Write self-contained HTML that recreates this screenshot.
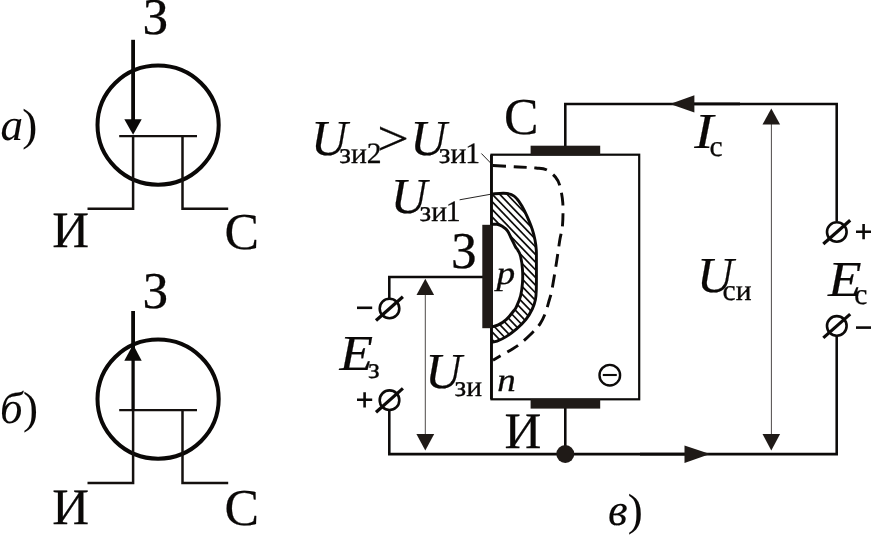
<!DOCTYPE html>
<html lang="ru">
<head>
<meta charset="utf-8">
<title>Полевой транзистор</title>
<style>
html,body{margin:0;padding:0;background:#fff;}
body{width:871px;height:535px;overflow:hidden;}
svg{display:block;will-change:transform;}
text{text-rendering:geometricPrecision;font-family:"Liberation Serif",serif;fill:#0a0807;stroke:#0a0807;stroke-width:0.35px;stroke-linejoin:round;}
.m{font-size:51px;stroke-width:0.25px;}
.i{font-size:50.4px;font-style:italic;stroke-width:0.2px;}
.k{fill:#0a0807;stroke:#0a0807;}
.o{font-size:51.7px;}
.s{font-size:29.6px;stroke-width:0.3px;}
.l{font-size:45px;font-style:italic;stroke-width:0.1px;}
.r{font-size:45px;font-style:normal;stroke-width:0.1px;}
.p{font-size:33px;font-style:italic;stroke-width:0.3px;}
</style>
</head>
<body>
<svg width="871" height="535" viewBox="0 0 871 535">
<rect width="871" height="535" fill="#fff"/>
<!-- a) -->
<ellipse cx="158.1" cy="125.1" rx="60.6" ry="59.6" fill="none" stroke="#0a0807" stroke-width="4"/>
<path d="M119.2,136.1 H197" fill="none" stroke="#14100e" stroke-width="2.3"/>
<path d="M133.1,136.1 V208.8 H87.5 M182.5,136.1 V208.8 H228.2" fill="none" stroke="#14100e" stroke-width="2.5"/>
<line x1="133.1" y1="39.8" x2="133.1" y2="122" stroke="#0a0807" stroke-width="3.8"/>
<polygon points="124.3,119.2 141.7,119.2 133.1,134.8" fill="#0a0807"/>

<text class="m o" x="142.5" y="34.3">З</text>
<text class="m k" x="52.2" y="247.2">И</text>
<text class="m o" x="224.6" y="248.7">С</text>
<text class="l" x="0.5" y="140.2">а<tspan class="r" dx="-0.8" dy="-0.2">)</tspan></text>
<!-- b) -->
<ellipse cx="158.1" cy="399.1" rx="60.6" ry="59.6" fill="none" stroke="#0a0807" stroke-width="4"/>
<path d="M119.2,410.1 H197" fill="none" stroke="#14100e" stroke-width="2.3"/>
<path d="M133.1,410.1 V483.0 H87.5 M182.5,410.1 V483.0 H228.2" fill="none" stroke="#14100e" stroke-width="2.5"/>
<line x1="133.1" y1="311" x2="133.1" y2="350" stroke="#0a0807" stroke-width="3.8"/>
<line x1="133.1" y1="350" x2="133.1" y2="410.1" stroke="#0a0807" stroke-width="3.3"/>
<polygon points="124.3,360.8 141.7,360.8 133.1,344.6" fill="#0a0807"/>

<text class="m o" x="142.5" y="308.3">З</text>
<text class="m k" x="52.2" y="523.6">И</text>
<text class="m o" x="224.6" y="524.7">С</text>
<text class="l" x="0" y="422.7">б<tspan class="r" dx="0.3" dy="0">)</tspan></text>
<!-- v) -->
<g fill="none" stroke="#0c0a09" stroke-width="2.55" stroke-linejoin="miter">
<rect x="491.5" y="154.7" width="147.7" height="244.6" stroke-width="2.2"/>
<path d="M565.3,146 V103.9 H836.7 V221"/>
<path d="M836.7,336 V454.1 H389.3 V410"/>
<path d="M389.3,298 V276.9 H483"/>
<path d="M565.3,408 V454"/>
</g>
<line x1="491.45" y1="154.7" x2="491.45" y2="399.3" stroke="#0c0a09" stroke-width="2.8"/>
<rect x="530.6" y="145.7" width="69.6" height="9.6" fill="#1f1a17"/>
<rect x="530.6" y="399" width="69.6" height="9.6" fill="#1f1a17"/>
<rect x="482.3" y="224.8" width="10.1" height="103.4" fill="#1f1a17"/>
<circle cx="565.3" cy="454" r="9.0" fill="#1f1a17"/>
<!-- depletion -->
<clipPath id="cp"><path d="M491.8,194.0 C493.8,193.9 500.3,193.1 503.6,193.2 C506.9,193.3 509.2,193.7 511.4,194.6 C513.6,195.5 514.9,196.5 516.6,198.4 C518.4,200.3 520.1,203.0 521.9,206.0 C523.6,209.0 525.4,212.5 527.1,216.4 C528.8,220.3 531.0,225.6 532.3,229.5 C533.6,233.4 534.3,236.5 535.0,240.0 C535.7,243.5 536.1,246.6 536.3,250.4 C536.5,254.2 536.4,256.5 536.4,263.0 C536.4,269.5 536.5,283.2 536.3,289.3 C536.1,295.4 536.1,296.4 535.4,299.7 C534.7,303.0 533.9,305.7 532.3,309.0 C530.7,312.3 528.4,316.3 525.8,319.6 C523.2,322.9 519.9,326.0 516.6,328.8 C513.3,331.6 509.5,334.5 506.2,336.6 C502.9,338.7 499.4,340.2 497.0,341.2 C494.6,342.1 492.7,342.1 491.8,342.3 L491.8,326.8 C492.9,326.5 495.9,326.1 498.3,324.9 C500.7,323.7 503.6,322.0 506.2,319.6 C508.8,317.2 512.3,312.7 514.0,310.5 C515.7,308.3 515.5,308.8 516.6,306.3 C517.7,303.9 519.6,299.7 520.6,295.8 C521.6,291.9 522.2,287.1 522.5,282.7 C522.8,278.3 522.8,274.0 522.5,269.6 C522.2,265.2 521.4,259.7 520.6,256.5 C519.9,253.3 518.9,252.2 518.0,250.5 C517.1,248.8 516.4,248.5 515.3,246.5 C514.2,244.5 512.7,241.2 511.4,238.6 C510.1,236.0 509.0,232.9 507.5,230.8 C506.0,228.7 503.9,227.3 502.2,226.2 C500.4,225.1 498.7,224.6 497.0,224.3 C495.3,224.0 492.7,224.3 491.8,224.3 Z"/></clipPath>
<g clip-path="url(#cp)" stroke="#0c0a09" stroke-width="1.7">
<line x1="488.0" y1="128.5" x2="540.0" y2="182.6"/>
<line x1="488.0" y1="136.1" x2="540.0" y2="190.2"/>
<line x1="488.0" y1="143.8" x2="540.0" y2="197.9"/>
<line x1="488.0" y1="151.5" x2="540.0" y2="205.5"/>
<line x1="488.0" y1="159.1" x2="540.0" y2="213.2"/>
<line x1="488.0" y1="166.8" x2="540.0" y2="220.9"/>
<line x1="488.0" y1="174.4" x2="540.0" y2="228.5"/>
<line x1="488.0" y1="182.1" x2="540.0" y2="236.2"/>
<line x1="488.0" y1="189.8" x2="540.0" y2="243.8"/>
<line x1="488.0" y1="197.4" x2="540.0" y2="251.5"/>
<line x1="488.0" y1="205.1" x2="540.0" y2="259.2"/>
<line x1="488.0" y1="212.7" x2="540.0" y2="266.8"/>
<line x1="488.0" y1="220.4" x2="540.0" y2="274.5"/>
<line x1="488.0" y1="228.1" x2="540.0" y2="282.1"/>
<line x1="488.0" y1="235.7" x2="540.0" y2="289.8"/>
<line x1="488.0" y1="243.4" x2="540.0" y2="297.5"/>
<line x1="488.0" y1="251.0" x2="540.0" y2="305.1"/>
<line x1="488.0" y1="258.7" x2="540.0" y2="312.8"/>
<line x1="488.0" y1="266.4" x2="540.0" y2="320.4"/>
<line x1="488.0" y1="274.0" x2="540.0" y2="328.1"/>
<line x1="488.0" y1="281.7" x2="540.0" y2="335.8"/>
<line x1="488.0" y1="289.3" x2="540.0" y2="343.4"/>
<line x1="488.0" y1="297.0" x2="540.0" y2="351.1"/>
<line x1="488.0" y1="304.7" x2="540.0" y2="358.7"/>
<line x1="488.0" y1="312.3" x2="540.0" y2="366.4"/>
<line x1="488.0" y1="320.0" x2="540.0" y2="374.1"/>
<line x1="488.0" y1="327.6" x2="540.0" y2="381.7"/>
<line x1="488.0" y1="335.3" x2="540.0" y2="389.4"/>
</g>
<path d="M491.8,194.0 C493.8,193.9 500.3,193.1 503.6,193.2 C506.9,193.3 509.2,193.7 511.4,194.6 C513.6,195.5 514.9,196.5 516.6,198.4 C518.4,200.3 520.1,203.0 521.9,206.0 C523.6,209.0 525.4,212.5 527.1,216.4 C528.8,220.3 531.0,225.6 532.3,229.5 C533.6,233.4 534.3,236.5 535.0,240.0 C535.7,243.5 536.1,246.6 536.3,250.4 C536.5,254.2 536.4,256.5 536.4,263.0 C536.4,269.5 536.5,283.2 536.3,289.3 C536.1,295.4 536.1,296.4 535.4,299.7 C534.7,303.0 533.9,305.7 532.3,309.0 C530.7,312.3 528.4,316.3 525.8,319.6 C523.2,322.9 519.9,326.0 516.6,328.8 C513.3,331.6 509.5,334.5 506.2,336.6 C502.9,338.7 499.4,340.2 497.0,341.2 C494.6,342.1 492.7,342.1 491.8,342.3" fill="none" stroke="#0c0a09" stroke-width="2.9"/>
<path d="M491.8,224.3 C492.7,224.3 495.3,224.0 497.0,224.3 C498.7,224.6 500.4,225.1 502.2,226.2 C503.9,227.3 506.0,228.7 507.5,230.8 C509.0,232.9 510.1,236.0 511.4,238.6 C512.7,241.2 514.2,244.5 515.3,246.5 C516.4,248.5 517.1,248.8 518.0,250.5 C518.9,252.2 519.9,253.3 520.6,256.5 C521.4,259.7 522.2,265.2 522.5,269.6 C522.8,274.0 522.8,278.3 522.5,282.7 C522.2,287.1 521.6,291.9 520.6,295.8 C519.6,299.7 517.7,303.9 516.6,306.3 C515.5,308.8 515.7,308.3 514.0,310.5 C512.3,312.7 508.8,317.2 506.2,319.6 C503.6,322.0 500.7,323.7 498.3,324.9 C495.9,326.1 492.9,326.5 491.8,326.8" fill="none" stroke="#0c0a09" stroke-width="2.9"/>
<path id="dash" d="M492.0,165.4 C496.4,165.7 511.0,166.6 518.3,167.0 C525.6,167.4 531.3,167.5 536.0,168.0 C540.7,168.5 543.2,168.3 546.4,169.8 C549.6,171.3 553.2,174.4 555.4,177.0 C557.6,179.6 558.6,181.3 559.8,185.6 C561.0,189.9 562.3,196.2 562.8,202.8 C563.2,209.4 563.0,219.1 562.5,225.3 C562.0,231.5 560.8,233.8 559.8,240.0 C558.8,246.2 557.8,254.2 556.5,262.4 C555.2,270.6 553.2,283.1 552.0,289.4 C550.8,295.7 550.4,296.1 549.3,300.0 C548.2,303.9 546.9,309.1 545.4,313.0 C543.9,316.9 542.4,320.3 540.2,323.6 C538.0,326.9 535.8,329.2 532.3,332.7 C528.8,336.2 523.0,341.6 519.3,344.5 C515.6,347.4 514.4,347.8 510.0,350.4 C505.6,353.0 495.8,358.6 493.0,360.2" fill="none" stroke="#0c0a09" stroke-width="2.9" stroke-dasharray="13 7.6" stroke-dashoffset="-1"/>
<!-- leaders -->
<line x1="481.4" y1="153.5" x2="490.8" y2="163.2" stroke="#0c0a09" stroke-width="0.9"/>
<line x1="459.6" y1="199.8" x2="491" y2="194.2" stroke="#0c0a09" stroke-width="0.9"/>
<!-- arrows -->
<line x1="694" y1="103.9" x2="740" y2="103.9" stroke="#0c0a09" stroke-width="2.8"/>
<polygon points="670,103.9 694.4,95.3 694.4,112.5" fill="#1f1a17"/>
<line x1="640" y1="454.1" x2="686" y2="454.1" stroke="#0c0a09" stroke-width="2.7"/>
<polygon points="710,454.1 684.5,445.4 684.5,462.9" fill="#1f1a17"/>
<line x1="771.4" y1="120" x2="771.4" y2="440" stroke="#3a3533" stroke-width="0.9"/>
<polygon points="771.3,108.4 762.5,124.6 780.1,124.6" fill="#1f1a17"/>
<polygon points="771.3,450.4 762.5,434 780.1,434" fill="#1f1a17"/>
<line x1="425.3" y1="290" x2="425.3" y2="440" stroke="#3a3533" stroke-width="0.9"/>
<polygon points="425.3,278.8 416.5,295 434.1,295" fill="#1f1a17"/>
<polygon points="425.3,450.4 416.4,434 434.2,434" fill="#1f1a17"/>
<!-- terminals -->
<circle cx="389.5" cy="308.5" r="9.8" fill="#fff" stroke="#0c0a09" stroke-width="2.6"/>
<line x1="376.0" y1="320.5" x2="402.9" y2="296.7" stroke="#0c0a09" stroke-width="3.2"/>

<circle cx="389.5" cy="400.2" r="9.8" fill="#fff" stroke="#0c0a09" stroke-width="2.6"/>
<line x1="376.0" y1="412.2" x2="402.9" y2="388.4" stroke="#0c0a09" stroke-width="3.2"/>

<circle cx="836.8" cy="232.0" r="9.8" fill="#fff" stroke="#0c0a09" stroke-width="2.6"/>
<line x1="823.3" y1="244.0" x2="850.2" y2="220.2" stroke="#0c0a09" stroke-width="3.2"/>

<circle cx="836.8" cy="325.9" r="9.8" fill="#fff" stroke="#0c0a09" stroke-width="2.6"/>
<line x1="823.3" y1="337.9" x2="850.2" y2="314.1" stroke="#0c0a09" stroke-width="3.2"/>

<g stroke="#0c0a09" stroke-width="2.6" fill="none">
<path d="M357,307.8 H372.2"/>
<path d="M357,399.8 H372.2 M364.6,392.2 V407.6"/>
<path d="M856,231.7 H871 M863.6,224 V239.3"/>
<path d="M856,327.6 H871"/>
<circle cx="609.8" cy="375.2" r="10.3" stroke-width="2.4"/>
<path d="M602.8,375 H616.8" stroke-width="2.1"/>
</g>
<!-- labels -->
<text class="i" x="311" y="155.2">U</text>
<text class="s" x="339.3" y="162.7">зи2</text>
<text class="m" transform="translate(377.3,154.8) scale(1.1,0.97)" x="0" y="0">&gt;</text>
<text class="i" x="410.3" y="155.1">U</text>
<text class="s" x="438.8" y="162.7">зи<tspan dx="-1.2">1</tspan></text>
<text class="i" x="390.8" y="213.1">U</text>
<text class="s" x="419.5" y="220.5">зи<tspan dx="-1.2">1</tspan></text>
<text class="m o" x="504.1" y="133.5">С</text>
<text class="m o" x="451" y="268.2">З</text>
<text class="m" x="504.4" y="448.1">И</text>
<text class="p" transform="translate(496.4,284) scale(1.13,1)" x="0" y="0">p</text>
<text class="p" transform="translate(497.3,390.9) scale(1.12,1)" x="0" y="0">n</text>
<text class="i" x="425.3" y="387.7">U</text>
<text class="s" x="454.5" y="395.8">зи</text>
<text class="i" transform="translate(339.4,370) scale(1.09,1)" x="0" y="0">E</text>
<text class="s" x="368" y="378.1">з</text>
<text class="i" transform="translate(694.35,147.6) scale(1.14,1)" x="0" y="0">I</text>
<text class="s" x="709.5" y="155.6">с</text>
<text class="i" x="697" y="292.1">U</text>
<text class="s" x="722.5" y="299.6">си</text>
<text class="i" transform="translate(828.1,296) scale(1.09,1)" x="0" y="0">E</text>
<text class="s" x="854.2" y="303.8">с</text>
<text class="l" x="608" y="525.2">в<tspan class="r" dx="0.2" dy="-0.6">)</tspan></text>
</svg>
</body>
</html>
